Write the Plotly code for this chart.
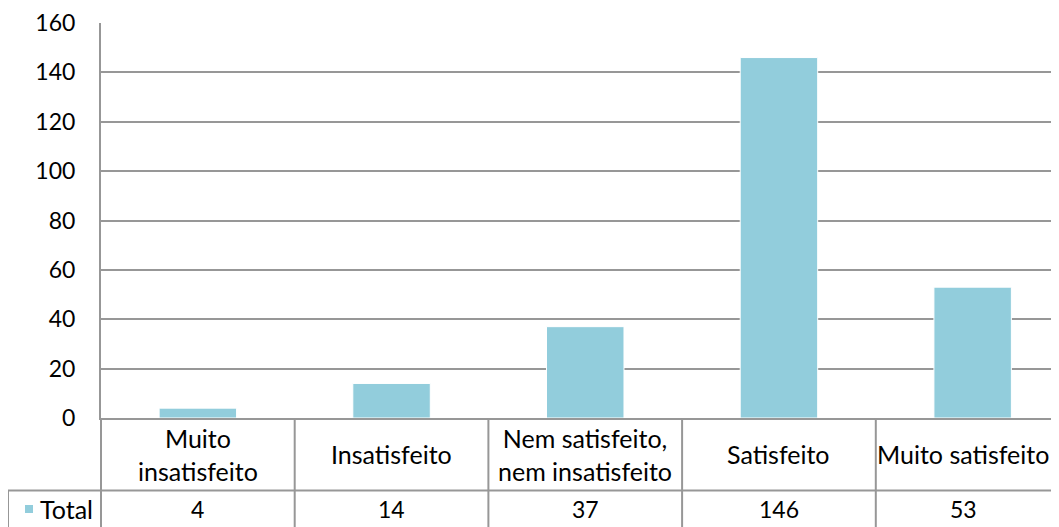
import plotly.graph_objects as go

categories = ["Muito insatisfeito", "Insatisfeito", "Nem satisfeito, nem insatisfeito", "Satisfeito", "Muito satisfeito"]
cat_labels = ["Muito<br>insatisfeito", "Insatisfeito", "Nem satisfeito,<br>nem insatisfeito", "Satisfeito", "Muito satisfeito"]
values = [4, 14, 37, 146, 53]
series_name = "Total"
y_ticks = [0, 20, 40, 60, 80, 100, 120, 140, 160]

# page body has an 8px margin; target coordinates are screen pixels
OFF = 8
W, H = 1059 - OFF, 527 - OFF
L, T = 101 - OFF, 23 - OFF
ZERO = 418 - OFF
R = 0
B = H - ZERO
PH = ZERO - T
PW = W - L - R
CAT_W = 193.7  # pixel width of one category; plot area runs past the window edge
VISIBLE_W = PW - OFF  # right-most strip is not visible in the window
x_max = -0.5 + PW / CAT_W
x_vis = -0.5 + VISIBLE_W / CAT_W

def py(p):
    return (ZERO - (p - OFF)) / PH

def px(p):
    return ((p - OFF) - L) / PW

BAR = "#92CDDC"
GRID = "#979797"
LW = 2
FONT = "Lato"
FS_NUM = 23
FS_TXT = 25

fig = go.Figure()
fig.add_trace(go.Bar(x=list(range(len(categories))), y=values, name=series_name,
                     marker=dict(color=BAR, line=dict(color="white", width=1)),
                     width=0.4, hoverinfo="y"))

shapes = []
shapes.append(dict(type="line", xref="paper", yref="paper", x0=px(8), x1=1, y0=py(490.5), y1=py(490.5),
                   line=dict(color=GRID, width=LW)))
shapes.append(dict(type="line", xref="paper", yref="paper", x0=px(8), x1=px(8), y0=py(490.5), y1=py(540),
                   line=dict(color=GRID, width=LW)))
shapes.append(dict(type="line", xref="paper", yref="paper", x0=0, x1=0, y0=0, y1=py(540),
                   line=dict(color=GRID, width=LW)))
for i in range(1, len(categories)):
    shapes.append(dict(type="line", xref="x", yref="paper", x0=i - 0.5, x1=i - 0.5, y0=0, y1=py(540),
                       line=dict(color=GRID, width=LW)))
shapes.append(dict(type="rect", xref="paper", yref="paper", x0=px(25), x1=px(33), y0=py(513), y1=py(505),
                   fillcolor=BAR, line=dict(width=0)))

annotations = []
n = len(categories)
for i, lab in enumerate(cat_labels):
    # last cell is clipped by the window: centre its label in the visible part
    xc = i if i < n - 1 else ((n - 1.5) + x_vis) / 2
    annotations.append(dict(x=xc, y=py(454), xref="x", yref="paper", text=lab, showarrow=False,
                            xanchor="center", yanchor="middle",
                            font=dict(family=FONT, size=FS_TXT, color="#000"), align="center"))
for i, v in enumerate(values):
    xc = i if i < n - 1 else ((n - 1.5) + x_vis) / 2
    annotations.append(dict(x=xc, y=py(509), xref="x", yref="paper", text=str(v), showarrow=False,
                            xanchor="center", yanchor="middle",
                            font=dict(family=FONT, size=FS_NUM, color="#000")))
annotations.append(dict(x=px(38), y=py(509), xref="paper", yref="paper", text=series_name, showarrow=False,
                        xanchor="left", yanchor="middle",
                        font=dict(family=FONT, size=FS_TXT, color="#000")))

fig.update_layout(
    width=W, height=H,
    margin=dict(l=L, r=R, t=T, b=B, autoexpand=False),
    paper_bgcolor="white", plot_bgcolor="white",
    showlegend=False,
    xaxis=dict(range=[-0.5, x_max], showticklabels=False, showgrid=False,
               zeroline=False, showline=True, linecolor=GRID, linewidth=LW, ticks=""),
    yaxis=dict(range=[0, 160], tickvals=y_ticks, showgrid=True, gridcolor=GRID, gridwidth=LW,
               zeroline=False, showline=True, linecolor=GRID, linewidth=LW,
               ticks="outside", ticklen=0, ticklabelstandoff=19,
               tickfont=dict(family=FONT, size=FS_NUM, color="#000")),
    shapes=shapes, annotations=annotations,
)

fig.write_html("out.html")
